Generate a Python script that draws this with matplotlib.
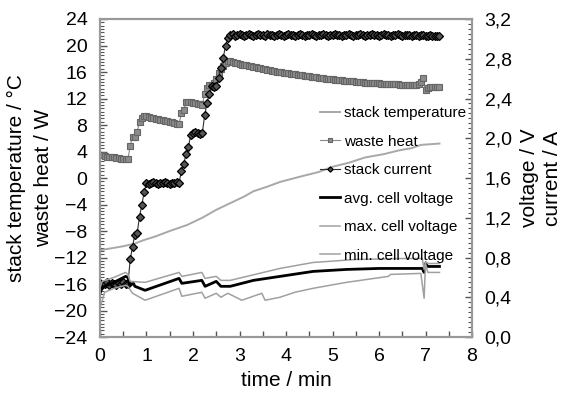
import numpy as np
import matplotlib.pyplot as plt
from matplotlib.ticker import MultipleLocator, FuncFormatter

plt.rcParams['font.family'] = ['Liberation Sans', 'DejaVu Sans']

# sample times for the marker series (min)
t_marked = np.round(np.arange(0, 7.301, 0.05), 2)

# waste heat / W (left axis)
waste_heat = [
    3.5, 3.4, 3.3, 3.2, 3.2, 3.1, 3.1, 3.0, 3.0, 2.9, 2.9, 2.8, 2.8,
    4.9, 6.2, 6.2, 7.0, 8.4, 9.0, 9.4,
    9.3, 9.2, 9.1, 9.0, 8.95, 8.9, 8.8, 8.7, 8.6, 8.55, 8.5, 8.4, 8.3, 8.2, 8.1,
    9.8, 10.3, 11.5, 11.5, 11.4, 11.3, 11.25, 11.2, 11.1, 11.0,
    12.7, 13.6, 14.0, 14.1, 14.3, 15.0, 15.8, 16.4, 16.9, 17.3, 17.7,
    17.6, 17.5, 17.4, 17.3, 17.2, 17.1, 17.05, 17.0, 16.9, 16.85,
    16.8, 16.7, 16.6, 16.55, 16.5, 16.4, 16.3, 16.25, 16.2, 16.1,
    16.05, 16.0, 15.95, 15.9, 15.85, 15.8, 15.75, 15.7, 15.65, 15.6,
    15.55, 15.5, 15.45, 15.4, 15.35, 15.3, 15.25, 15.2, 15.15, 15.1,
    15.05, 15.0, 15.0, 14.95, 14.9, 14.85, 14.8, 14.8, 14.75, 14.7,
    14.7, 14.65, 14.6, 14.6, 14.55, 14.5, 14.5, 14.45, 14.4, 14.4,
    14.35, 14.35, 14.3, 14.3, 14.3, 14.25, 14.25, 14.2, 14.2, 14.2,
    14.15, 14.15, 14.15, 14.1, 14.1, 14.1, 14.1, 14.1, 14.1, 14.1,
    14.1, 14.2,
    14.5, 15.1, 13.3, 13.6, 13.8, 13.8, 13.8, 13.8, 13.8,
]

# stack current / A (right axis)
stack_current = [
    0.54, 0.52, 0.53, 0.55, 0.52, 0.54, 0.53, 0.52, 0.54, 0.53, 0.55, 0.53, 0.53,
    0.78, 0.91, 1.03, 1.05, 1.21, 1.33, 1.46,
    1.55, 1.54, 1.55, 1.56, 1.55, 1.54, 1.55, 1.55, 1.56, 1.55, 1.54, 1.55, 1.55, 1.56, 1.55,
    1.67, 1.74, 1.84, 1.91, 2.03, 2.05, 2.06, 2.05, 2.04, 2.05,
    2.23, 2.35, 2.45, 2.53, 2.52, 2.53, 2.61, 2.71, 2.81, 2.93, 3.01,
    3.04, 3.05, 3.03, 3.04, 3.05, 3.04, 3.03, 3.04, 3.05, 3.04,
    3.03, 3.04, 3.05, 3.04, 3.04, 3.03, 3.05, 3.04, 3.04, 3.03,
    3.04, 3.05, 3.04, 3.03, 3.04, 3.05, 3.04, 3.04, 3.03, 3.04,
    3.05, 3.04, 3.03, 3.04, 3.04, 3.05, 3.04, 3.03, 3.04, 3.04,
    3.05, 3.04, 3.03, 3.04, 3.04, 3.05, 3.04, 3.04, 3.03, 3.04,
    3.04, 3.05, 3.04, 3.03, 3.04, 3.04, 3.05, 3.04, 3.03, 3.04,
    3.04, 3.05, 3.04, 3.04, 3.03, 3.04, 3.05, 3.04, 3.04, 3.03,
    3.04, 3.04, 3.05, 3.04, 3.03, 3.04, 3.04, 3.04, 3.03, 3.04,
    3.04, 3.03, 3.04, 3.04, 3.03, 3.03, 3.04, 3.03, 3.03, 3.03,
    3.03,
]

# stack temperature / degC (left axis)
t_temp = [0, 0.25, 0.5, 0.75, 0.93, 1.2, 1.5, 1.87, 2.2, 2.5, 2.86, 3.1, 3.3, 3.6, 3.87,
          4.3, 4.7, 5.0, 5.35, 5.7, 6.1, 6.45, 6.7, 6.9, 7.1, 7.3]
stack_temp = [-10.9, -10.6, -10.3, -9.9, -9.4, -8.8, -8.0, -7.1, -6.0, -4.8, -3.6, -2.8, -2.0,
              -1.3, -0.6, 0.2, 0.9, 1.7, 2.3, 3.1, 3.6, 4.2, 4.5, 5.0, 5.1, 5.2]

# cell voltages / V (right axis)
t_avg = [0, 0.05, 0.3, 0.55, 0.6, 0.63, 0.72, 0.75, 0.97, 1.70, 1.76, 2.19, 2.26,
         2.5, 2.6, 2.8, 3.3, 3.87, 4.58, 5.3, 6.0, 6.8, 6.93, 6.97, 7.0, 7.05, 7.3]
avg_voltage = [0.44, 0.50, 0.55, 0.61, 0.60, 0.52, 0.54, 0.51, 0.47, 0.59, 0.54, 0.57, 0.51,
               0.56, 0.51, 0.51, 0.57, 0.61, 0.66, 0.68, 0.69, 0.69, 0.69, 0.65, 0.74, 0.71, 0.71]

t_max = [0, 0.05, 0.3, 0.55, 0.6, 0.65, 0.97, 1.70, 1.76, 2.19, 2.26, 2.5, 2.6, 2.8,
         3.87, 4.58, 5.5, 6.5, 6.93, 6.97, 7.0, 7.05, 7.3]
max_voltage = [0.50, 0.56, 0.60, 0.65, 0.63, 0.56, 0.55, 0.65, 0.61, 0.65, 0.59, 0.61, 0.57, 0.57,
               0.69, 0.75, 0.78, 0.79, 0.79, 0.68, 0.76, 0.74, 0.74]

t_min = [0, 0.05, 0.1, 0.3, 0.55, 0.6, 0.7, 0.97, 1.70, 1.76, 2.19, 2.26, 2.5, 2.6,
         2.75, 3.05, 3.48, 3.55, 3.87, 4.19, 4.58, 5.3, 6.2, 6.25, 6.9, 6.97, 7.0, 7.05, 7.3]
min_voltage = [0.30, 0.37, 0.45, 0.49, 0.52, 0.51, 0.44, 0.37, 0.49, 0.41, 0.45, 0.39, 0.44, 0.40,
               0.44, 0.37, 0.44, 0.37, 0.40, 0.45, 0.49, 0.55, 0.61, 0.63, 0.64, 0.39, 0.74, 0.65, 0.65]

fig = plt.figure(figsize=(5.63, 3.95), dpi=100)
ax = fig.add_axes([0.1776, 0.1468, 0.8384 - 0.1776, 0.9519 - 0.1468])
ax2 = ax.twinx()

temp_line, = ax.plot(t_temp, stack_temp, color='#a8a8a8', lw=1.4, label='stack temperature')
heat_line, = ax.plot(t_marked, waste_heat, color='#8a8a8a', lw=0.8, marker='s', ms=5,
                     mfc='#8c8c8c', mec='#666666', mew=0.8, label='waste heat')

cur_line, = ax2.plot(t_marked, stack_current, color='#303030', lw=0.8, marker='D', ms=4.5,
                     mfc='#555555', mec='black', mew=0.9, label='stack current')
avg_line, = ax2.plot(t_avg, avg_voltage, color='black', lw=2.0, label='avg. cell voltage')
max_line, = ax2.plot(t_max, max_voltage, color='#a0a0a0', lw=1.1, label='max. cell voltage')
min_line, = ax2.plot(t_min, min_voltage, color='#a0a0a0', lw=1.1, label='min. cell voltage')

ax.set_xlim(0, 8)
ax.set_ylim(-24, 24)
ax2.set_ylim(0, 3.2)

ax.xaxis.set_major_locator(MultipleLocator(1))
ax.xaxis.set_minor_locator(MultipleLocator(0.5))
ax.yaxis.set_major_locator(MultipleLocator(4))
ax.yaxis.set_minor_locator(MultipleLocator(0.5))
ax2.yaxis.set_major_locator(MultipleLocator(0.4))
ax2.yaxis.set_minor_locator(MultipleLocator(0.05))
ax2.yaxis.set_major_formatter(FuncFormatter(lambda v, p: f"{v:.1f}".replace('.', ',')))

ax.tick_params(axis='x', which='both', direction='in', length=4, width=1, color='#555555',
               top=False, labelsize=14, pad=8)
ax.tick_params(axis='y', which='major', direction='in', length=5, width=1, color='#555555',
               right=False, labelsize=14, pad=9)
ax.tick_params(axis='y', which='minor', direction='in', length=3, width=0.8, color='#555555',
               right=False)
ax2.tick_params(axis='y', which='major', direction='in', length=5, width=1, color='#555555',
                labelsize=14, pad=9)
ax2.tick_params(axis='y', which='minor', direction='in', length=3, width=0.8, color='#555555')

for a in (ax, ax2):
    for s in a.spines.values():
        s.set_color('#999999')
        s.set_linewidth(1.5)

ax.set_xlabel('time / min', fontsize=15, labelpad=4)
ax.set_ylabel('stack temperature / °C\nwaste heat / W', fontsize=15, labelpad=1,
              linespacing=1.5)
ax2.set_ylabel('voltage / V\ncurrent / A', fontsize=15, labelpad=6, rotation=90,
               linespacing=1.3)

handles = [temp_line, heat_line, cur_line, avg_line, max_line, min_line]
ax2.legend(handles=handles, loc='upper left', bbox_to_anchor=(0.575, 0.745), frameon=False,
           fontsize=11, handlelength=1.3, handletextpad=0.25, labelspacing=0.95,
           markerscale=0.6, borderaxespad=0)

fig.savefig('out.png', dpi=100)
